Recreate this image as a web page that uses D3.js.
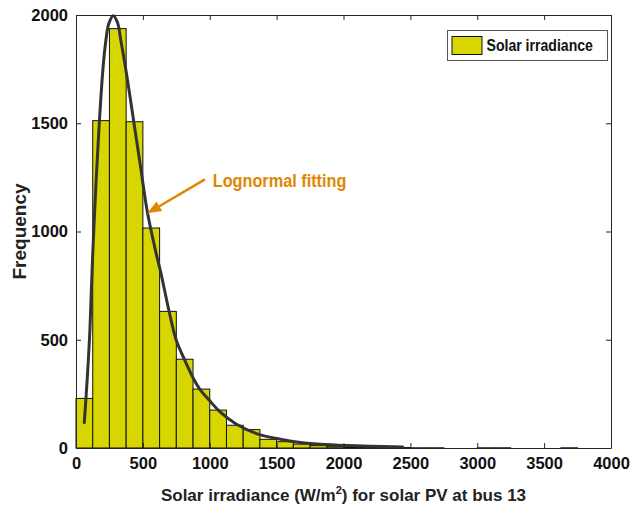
<!DOCTYPE html>
<html>
<head>
<meta charset="utf-8">
<script src="https://cdn.jsdelivr.net/npm/d3@7"></script>
<style>
  body { margin: 0; background: #fff; }
  svg { display: block; }
  text { font-family: "Liberation Sans", Arial, sans-serif; font-weight: bold; }
</style>
</head>
<body>
<svg id="chart" width="630" height="519"></svg>
<script>
// Histogram of hourly solar irradiance (bin width 125 W/m^2)
const binWidth = 125;
const binStarts = [0, 125, 250, 375, 500, 625, 750, 875, 1000, 1125, 1250, 1375,
  1500, 1625, 1750, 1875, 2000, 2125, 2250, 2375, 2500, 2625, 2750, 2875,
  3000, 3125, 3250, 3375, 3500, 3625, 3750, 3875];
const binCounts = [229, 1512, 1937, 1507, 1016, 631, 410, 272, 175, 105, 85, 40,
  29, 18, 11, 6, 4, 3, 2, 2, 1, 1, 0, 0,
  1, 1, 0, 0, 0, 1, 0, 0];

// Lognormal fit, sampled along the irradiance axis
const fitX = [62, 85, 104, 124, 150, 174, 200, 219, 245, 279, 310, 336, 380, 430, 480,
  535, 597, 634, 700, 751, 813, 883, 925, 1000, 1075, 1200, 1373, 1500, 1622, 1800,
  1995, 2200, 2443];
const fitY = [117, 330, 545, 880, 1230, 1500, 1740, 1860, 1960, 1997, 1965, 1880, 1720, 1515, 1310,
  1085, 905, 810, 620, 495, 406, 315, 272, 218, 168, 110, 62, 44, 30, 18,
  12, 8, 5];

const xTicks = [0, 500, 1000, 1500, 2000, 2500, 3000, 3500, 4000];
const yTicks = [0, 500, 1000, 1500, 2000];

const seriesName = "Solar irradiance";
const fitLabel = "Lognormal fitting";
// annotation anchor points in data units
const fitLabelAt = { x: 1022, y: 1205 };
const arrowFrom = { x: 964, y: 1241 };
const arrowTo = { x: 533, y: 1084 };

const barColor = "#d8d600";
const fitColor = "#333333";
const noteColor = "#e08600";
const axisColor = "#262626";

const margin = { left: 76, right: 19, top: 15, bottom: 71 };
const W = 630, H = 519;
const innerW = W - margin.left - margin.right;
const innerH = H - margin.top - margin.bottom;

const svg = d3.select("#chart");
const g = svg.append("g").attr("transform", `translate(${margin.left},${margin.top})`);

const x = d3.scaleLinear().domain([0, 4000]).range([0, innerW]);
const y = d3.scaleLinear().domain([0, 2000]).range([innerH, 0]);
const fmt = d3.format("d");

// bars
const bins = binStarts.map((s, i) => ({ x0: s, x1: s + binWidth, n: binCounts[i] }))
  .filter(d => d.n > 0);
g.append("g").selectAll("rect").data(bins).join("rect")
  .attr("x", d => x(d.x0))
  .attr("width", d => x(d.x1) - x(d.x0))
  .attr("y", d => y(d.n))
  .attr("height", d => y(0) - y(d.n))
  .attr("fill", barColor)
  .attr("stroke", "#111")
  .attr("stroke-width", 1);

// fitted curve
const fitPts = fitX.map((v, i) => [v, fitY[i]]);
g.append("path")
  .datum(fitPts)
  .attr("fill", "none")
  .attr("stroke", fitColor)
  .attr("stroke-width", 3)
  .attr("stroke-linejoin", "round")
  .attr("stroke-linecap", "round")
  .attr("d", d3.line().x(d => x(d[0])).y(d => y(d[1])).curve(d3.curveCatmullRom));

// axes with inward ticks on all four sides
const tickLen = 5;
const styleAxis = sel => {
  sel.select(".domain").attr("stroke", axisColor).attr("stroke-width", 1);
  sel.selectAll(".tick line").attr("stroke", axisColor);
};
const xb = g.append("g").attr("transform", `translate(0,${innerH})`)
  .call(d3.axisBottom(x).tickValues(xTicks).tickFormat(fmt).tickSize(-tickLen).tickSizeOuter(0).tickPadding(9))
  .call(styleAxis);
xb.selectAll(".tick text").attr("font-size", 16.5).attr("fill", "#111").attr("font-family", null);

const yl = g.append("g")
  .call(d3.axisLeft(y).tickValues(yTicks).tickFormat(fmt).tickSize(-tickLen).tickSizeOuter(0).tickPadding(8))
  .call(styleAxis);
yl.selectAll(".tick text").attr("font-size", 16.5).attr("fill", "#111").attr("font-family", null);

g.append("g")
  .call(d3.axisTop(x).tickValues(xTicks).tickSize(-tickLen).tickSizeOuter(0).tickFormat(""))
  .call(styleAxis);
g.append("g").attr("transform", `translate(${innerW},0)`)
  .call(d3.axisRight(y).tickValues(yTicks).tickSize(-tickLen).tickSizeOuter(0).tickFormat(""))
  .call(styleAxis);

// axis titles
const xt = svg.append("text")
  .attr("x", margin.left + innerW / 2)
  .attr("y", 501)
  .attr("text-anchor", "middle")
  .attr("font-size", 17)
  .attr("fill", "#222");
xt.append("tspan").text("Solar irradiance (W/m");
xt.append("tspan").attr("font-size", 11).attr("dy", -7).text("2");
xt.append("tspan").attr("dy", 7).text(") for solar PV at bus 13");

svg.append("text")
  .attr("transform", `translate(26,${margin.top + innerH / 2}) rotate(-90)`)
  .attr("text-anchor", "middle")
  .attr("font-family", "'DejaVu Sans', Verdana, sans-serif")
  .attr("font-size", 19)
  .attr("fill", "#222")
  .text("Frequency");

// legend
const lg = svg.append("g");
lg.append("rect").attr("x", 447.5).attr("y", 30.5).attr("width", 160).attr("height", 30)
  .attr("fill", "#fff").attr("stroke", "#555").attr("stroke-width", 1);
lg.append("rect").attr("x", 452).attr("y", 36.5).attr("width", 30).attr("height", 18)
  .attr("fill", barColor).attr("stroke", "#111").attr("stroke-width", 1);
lg.append("text")
  .attr("transform", "translate(486.5,51) scale(0.88,1)")
  .attr("font-size", 16)
  .attr("fill", "#111")
  .text(seriesName);

// annotation arrow
const ax0 = x(arrowFrom.x), ay0 = y(arrowFrom.y);
const ax1 = x(arrowTo.x), ay1 = y(arrowTo.y);
const ang = Math.atan2(ay1 - ay0, ax1 - ax0);
const headLen = 14, headHalf = 5.5;
const bx = ax1 - headLen * Math.cos(ang), by = ay1 - headLen * Math.sin(ang);
const note = g.append("g");
note.append("line")
  .attr("x1", ax0).attr("y1", ay0).attr("x2", bx).attr("y2", by)
  .attr("stroke", noteColor).attr("stroke-width", 2.5);
note.append("path")
  .attr("d", `M${ax1},${ay1}L${bx + headHalf * Math.sin(ang)},${by - headHalf * Math.cos(ang)}L${bx - headHalf * Math.sin(ang)},${by + headHalf * Math.cos(ang)}Z`)
  .attr("fill", noteColor);
note.append("text")
  .attr("transform", `translate(${x(fitLabelAt.x)},${y(fitLabelAt.y)}) scale(0.88,1)`)
  .attr("font-size", 18.5)
  .attr("fill", noteColor)
  .text(fitLabel);
</script>
</body>
</html>
